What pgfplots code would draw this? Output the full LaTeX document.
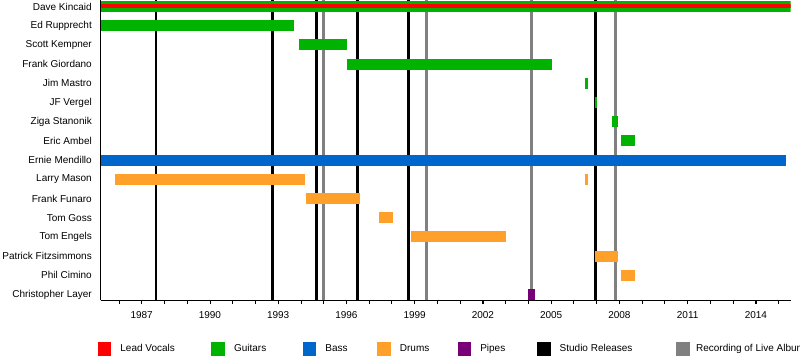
\documentclass[border=0pt]{standalone}
\usepackage{pgfplots}
\pgfplotsset{compat=1.18}
\usepackage{fontspec}
\setmainfont{Liberation Sans}
\definecolor{cvoc}{RGB}{255,0,0}
\definecolor{cgtr}{RGB}{0,179,0}
\definecolor{cbass}{RGB}{0,102,204}
\definecolor{cdrm}{RGB}{255,160,42}
\definecolor{cpipe}{RGB}{119,0,119}
\definecolor{cgray}{RGB}{128,128,128}
\newcommand{\LE}[2]{\makebox[#1][l]{\hspace*{9.6bp}#2}}
\begin{document}
\fontsize{10bp}{12bp}\selectfont
\begin{tikzpicture}
\useasboundingbox (0,0) rectangle (800bp,360bp);
\begin{axis}[
  at={(100.5bp,60bp)}, anchor=south west,
  scale only axis, width=690.2bp, height=300bp,
  xmin=1985.19, xmax=2015.53,
  ymin=-0.29, ymax=15.339,
  axis x line*=bottom, axis y line*=left,
  axis line style={line width=1bp, black},
  xtick={1987,1990,1993,1996,1999,2002,2005,2008,2011,2014},
  xticklabels={1987,1990,1993,1996,1999,2002,2005,2008,2011,2014},
  minor xtick={1986,1987,...,2015},
  xtick align=outside,
  major tick length=4bp, minor tick length=4bp,
  x tick style={line width=0.8bp, black},
  xticklabel style={inner sep=0pt, yshift=-7bp, font=\fontsize{10bp}{12bp}\selectfont},
  ytick={0,1,...,15},
  yticklabels={Christopher Layer, Phil Cimino, Patrick Fitzsimmons, Tom Engels, Tom Goss, Frank Funaro, Larry Mason, Ernie Mendillo, Eric Ambel, Ziga Stanonik, JF Vergel, Jim Mastro, Frank Giordano, Scott Kempner, Ed Rupprecht, Dave Kincaid},
  y tick style={draw=none},
  yticklabel style={inner sep=0pt, xshift=-8.5bp, font=\fontsize{10bp}{12bp}\selectfont},
  clip=true,
  legend columns=7,
  legend cell align=left,
  legend image code/.code={\fill[#1] (0bp,-6.35bp) rectangle (12.7bp,6.35bp);},
  legend style={at={(-0.00406,-0.1617)}, anchor=west, draw=none, fill=none,
    inner sep=0pt, outer sep=0pt, nodes={inner sep=0pt, outer sep=0pt},
    column sep=0pt, font=\fontsize{10bp}{12bp}\selectfont},
]
% legend entries
\addlegendimage{cvoc}\addlegendentry{\LE{100.6bp}{Lead Vocals}}
\addlegendimage{cgtr}\addlegendentry{\LE{78.3bp}{Guitars}}
\addlegendimage{cbass}\addlegendentry{\LE{61.3bp}{Bass}}
\addlegendimage{cdrm}\addlegendentry{\LE{67.3bp}{Drums}}
\addlegendimage{cpipe}\addlegendentry{\LE{66.3bp}{Pipes}}
\addlegendimage{black}\addlegendentry{\LE{126.3bp}{Studio Releases}}
\addlegendimage{cgray}\addlegendentry{\hspace*{6.6bp}Recording of Live Album}
% studio releases
\foreach \yr in {1987.63,1992.75,1994.67,1996.48,1998.72,2006.94}{
  \edef\tmp{\noexpand\addplot[black, line width=2.7bp, forget plot] coordinates {(\yr,-0.29) (\yr,15.339)};}\tmp
}
% live album recordings
\foreach \yr in {1994.98,1999.51,2004.13,2007.82}{
  \edef\tmp{\noexpand\addplot[cgray, line width=2.7bp, forget plot] coordinates {(\yr,-0.29) (\yr,15.339)};}\tmp
}
% Dave Kincaid
\addplot[cgtr, line width=11bp, forget plot] coordinates {(1985.19,15) (2015.53,15)};
\addplot[cvoc, line width=4bp, forget plot] coordinates {(1985.19,15.026) (2015.53,15.026)};
% guitars
\addplot[cgtr, line width=11bp, forget plot] coordinates {(1985.19,14) (1993.69,14)};
\addplot[cgtr, line width=11bp, forget plot] coordinates {(1993.93,13) (1996.02,13)};
\addplot[cgtr, line width=11bp, forget plot] coordinates {(1996.02,12) (2005.02,12)};
\addplot[cgtr, line width=11bp, forget plot] coordinates {(2006.49,11) (2006.62,11)};
\addplot[cgtr, line width=11bp, forget plot] coordinates {(2006.93,10) (2007.02,10)};
\addplot[cgtr, line width=11bp, forget plot] coordinates {(2007.67,9) (2007.93,9)};
\addplot[cgtr, line width=11bp, forget plot] coordinates {(2008.07,8) (2008.68,8)};
% bass
\addplot[cbass, line width=11bp, forget plot] coordinates {(1985.19,7) (2015.32,7)};
% drums
\addplot[cdrm, line width=11bp, forget plot] coordinates {(1985.83,6) (1994.18,6)};
\addplot[cdrm, line width=11bp, forget plot] coordinates {(2006.49,6) (2006.62,6)};
\addplot[cdrm, line width=11bp, forget plot] coordinates {(1994.22,5) (1996.60,5)};
\addplot[cdrm, line width=11bp, forget plot] coordinates {(1997.43,4) (1998.05,4)};
\addplot[cdrm, line width=11bp, forget plot] coordinates {(1998.84,3) (2003.02,3)};
\addplot[cdrm, line width=11bp, forget plot] coordinates {(2006.93,2) (2007.94,2)};
\addplot[cdrm, line width=11bp, forget plot] coordinates {(2008.07,1) (2008.68,1)};
% pipes
\addplot[cpipe, line width=11bp, forget plot] coordinates {(2003.98,0) (2004.29,0)};
\end{axis}
\end{tikzpicture}
\end{document}
